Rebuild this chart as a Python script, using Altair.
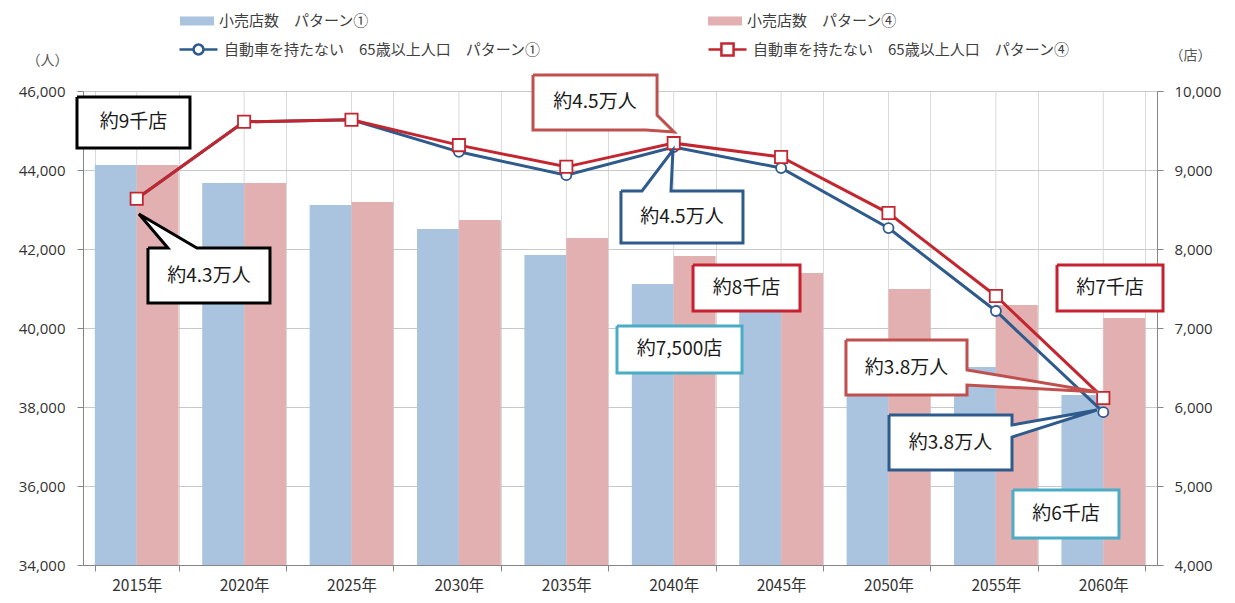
import altair as alt
import pandas as pd

# ---------------- data ----------------
years = ["2015年", "2020年", "2025年", "2030年", "2035年",
         "2040年", "2045年", "2050年", "2055年", "2060年"]
stores_p1 = [9063, 8835, 8557, 8253, 7924, 7557, 7230, 6860, 6506, 6152]
stores_p4 = [9063, 8835, 8595, 8367, 8139, 7911, 7696, 7494, 7291, 7127]
people_p1 = [43270, 45220, 45270, 44460, 43870, 44580, 44050, 42530, 40430, 37870]
people_p4 = [43270, 45220, 45270, 44630, 44080, 44680, 44330, 42910, 40810, 38230]

bar1_label = "小売店数　パターン①"
bar4_label = "小売店数　パターン④"
line1_label = "自動車を持たない　65歳以上人口　パターン①"
line4_label = "自動車を持たない　65歳以上人口　パターン④"

# callouts: outline vertices in data units (x = category units 0..10, y = people)
callouts = [
    {"text": "約9千店", "kind": "black", "tx": 0.47, "ty": 45203,
     "xs": [-0.056, 0.996, 0.996, -0.056],
     "ys": [45848, 45848, 44557, 44557]},
    {"text": "約4.3万人", "kind": "black", "tx": 1.173, "ty": 41329,
     "xs": [0.605, 0.791, 0.521, 1.061, 1.741, 1.741, 0.605],
     "ys": [42025, 42025, 42886, 42025, 42025, 40633, 40633]},
    {"text": "約4.5万人", "kind": "salmon", "tx": 4.767, "ty": 45709,
     "xs": [4.190, 5.345, 5.345, 5.503, 5.242, 4.190],
     "ys": [46405, 46405, 45392, 44962, 45013, 45013]},
    {"text": "約4.5万人", "kind": "blue", "tx": 5.577, "ty": 42810,
     "xs": [5.009, 5.205, 5.493, 5.475, 6.145, 6.145, 5.009],
     "ys": [43468, 43468, 44506, 43468, 43468, 42152, 42152]},
    {"text": "約8千店", "kind": "red", "tx": 6.178, "ty": 41013,
     "xs": [5.680, 6.676, 6.676, 5.680],
     "ys": [41595, 41595, 40430, 40430]},
    {"text": "約7,500店", "kind": "cyan", "tx": 5.554, "ty": 39456,
     "xs": [4.972, 6.136, 6.136, 4.972],
     "ys": [40051, 40051, 38861, 38861]},
    {"text": "約7千店", "kind": "red", "tx": 9.562, "ty": 41013,
     "xs": [9.069, 10.056, 10.056, 9.069],
     "ys": [41595, 41595, 40430, 40430]},
    {"text": "約3.8万人", "kind": "salmon", "tx": 7.668, "ty": 39000,
     "xs": [7.104, 8.231, 8.231, 9.451, 8.231, 8.231, 7.104],
     "ys": [39696, 39696, 38937, 38380, 38557, 38304, 38304]},
    {"text": "約3.8万人", "kind": "blue", "tx": 8.077, "ty": 37101,
     "xs": [7.505, 8.650, 8.650, 9.441, 8.650, 8.650, 7.505],
     "ys": [37798, 37798, 37544, 37924, 37241, 36405, 36405]},
    {"text": "約6千店", "kind": "cyan", "tx": 9.153, "ty": 35291,
     "xs": [8.659, 9.646, 9.646, 8.659],
     "ys": [35899, 35899, 34684, 34684]},
]

# ---------------- styles ----------------
BLUE_BAR = "#AAC4DF"
PINK_BAR = "#E3B0B2"
BLUE_LINE = "#2E5B8C"
RED_LINE = "#C3262F"
kinds = ["black", "salmon", "blue", "red", "cyan"]
kind_colors = ["#000000", "#C0504D", "#2E5B8C", "#C62031", "#4BACC6"]
JP = "'Noto Sans CJK JP', sans-serif"
NUM = "'Open Sans', 'Noto Sans CJK JP', sans-serif"
W, H = 1074, 474

# ---------------- tables ----------------
bars1 = pd.DataFrame({"year": years, "pat": "①", "stores": stores_p1, "series": bar1_label})
bars4 = pd.DataFrame({"year": years, "pat": "④", "stores": stores_p4, "series": bar4_label})
centers = pd.DataFrame({"year": years})
line1 = pd.DataFrame({"pos": [i + 0.5 for i in range(len(years))], "people": people_p1, "series": line1_label})
line4 = pd.DataFrame({"pos": [i + 0.5 for i in range(len(years))], "people": people_p4, "series": line4_label})

rows = []
for cid, c in enumerate(callouts):
    pts = list(zip(c["xs"], c["ys"])) + [(c["xs"][0], c["ys"][0])]
    for k, (x, y) in enumerate(pts):
        rows.append({"cid": cid, "ord": k, "pos": x, "people": y, "kind": c["kind"]})
outline = pd.DataFrame(rows)
labels = pd.DataFrame({"pos": [c["tx"] for c in callouts],
                       "people": [c["ty"] for c in callouts],
                       "text": [c["text"] for c in callouts]})

# ---------------- scales / axes ----------------
xband = alt.Scale(domain=years, paddingInner=0.22, paddingOuter=0.11)
xoff = alt.Scale(domain=["①", "④"], paddingInner=0, paddingOuter=0)
xq = alt.Scale(domain=[0, 10], nice=False, zero=False)
store_scale = alt.Scale(domain=[4000, 10000], nice=False, zero=False)
people_scale = alt.Scale(domain=[34000, 46000], nice=False, zero=False)

x_axis = alt.Axis(title=None, tickBand="extent", grid=True, gridColor="#D9D9D9",
                  domainColor="#868686", tickColor="#868686", tickSize=6,
                  labelAngle=0, labelFont=JP, labelFontSize=15.5, labelColor="#333333",
                  labelPadding=7)
store_axis = alt.Axis(orient="right", values=list(range(4000, 10001, 1000)), format=",d",
                      grid=False, domainColor="#868686", tickColor="#868686", tickSize=6,
                      labelFont=NUM, labelFontSize=15, labelColor="#333333", labelPadding=11,
                      title="（店）", titleAngle=0, titleX=33, titleY=-36,
                      titleAlign="center", titleBaseline="middle", titleFont=JP,
                      titleFontSize=14, titleFontWeight="normal", titleColor="#555555")
people_axis = alt.Axis(orient="left", values=list(range(34000, 46001, 2000)), format=",d",
                       grid=True, gridColor="#C8C8C8", domainColor="#868686",
                       tickColor="#868686", tickSize=6,
                       labelFont=NUM, labelFontSize=15, labelColor="#333333", labelPadding=12,
                       title="（人）", titleAngle=0, titleX=-36, titleY=-31,
                       titleAlign="center", titleBaseline="middle", titleFont=JP,
                       titleFontSize=14, titleFontWeight="normal", titleColor="#555555")

px = alt.X("pos:Q", scale=xq, axis=None)
py = alt.Y("people:Q", scale=people_scale, axis=people_axis)

RECT_SYM = "M-1,-0.26H1V0.26H-1Z"
CIRC_SYM = "M-1,0H-0.26M0.26,0H1M-0.26,0A0.26,0.26,0,1,0,0.26,0A0.26,0.26,0,1,0,-0.26,0"
SQ_SYM = "M-1,0H-0.32M0.32,0H1M-0.32,-0.32H0.32V0.32H-0.32Z"


def leg(x, y, sym, size, sw):
    return alt.Legend(title=None, orient="none", legendX=x, legendY=y, symbolType=sym,
                      symbolSize=size, symbolStrokeWidth=sw, labelFont=JP,
                      labelFontSize=15, labelColor="#404040", labelOffset=5,
                      padding=0, labelLimit=600)


# ---------------- bars ----------------
rules = alt.Chart(centers).mark_rule(color="#D9D9D9", strokeWidth=1).encode(
    x=alt.X("year:N", scale=xband, axis=x_axis, sort=years))

bar_blue = alt.Chart(bars1).mark_bar().encode(
    x=alt.X("year:N", scale=xband, axis=x_axis, sort=years),
    xOffset=alt.XOffset("pat:N", scale=xoff),
    y=alt.Y("stores:Q", scale=store_scale, axis=store_axis),
    y2=alt.Y2(datum=4000),
    color=alt.Color("series:N", scale=alt.Scale(domain=[bar1_label], range=[BLUE_BAR]),
                    legend=leg(97, -87, RECT_SYM, 1156, 0)))

bar_pink = alt.Chart(bars4).mark_bar().encode(
    x=alt.X("year:N", scale=xband, axis=x_axis, sort=years),
    xOffset=alt.XOffset("pat:N", scale=xoff),
    y=alt.Y("stores:Q", scale=store_scale, axis=store_axis),
    y2=alt.Y2(datum=4000),
    color=alt.Color("series:N", scale=alt.Scale(domain=[bar4_label], range=[PINK_BAR]),
                    legend=leg(625, -87, RECT_SYM, 1156, 0)))

bars_group = alt.layer(rules, bar_blue, bar_pink).resolve_scale(color="independent").resolve_legend(color="independent")

# ---------------- lines ----------------
blue_line = alt.Chart(line1).mark_line(strokeWidth=3).encode(
    x=px, y=py,
    color=alt.Color("series:N", scale=alt.Scale(domain=[line1_label], range=[BLUE_LINE]),
                    legend=leg(95, -62, CIRC_SYM, 1444, 2.5)))
blue_pts = alt.Chart(line1).mark_point(shape="circle", filled=True, fill="white",
                                       stroke=BLUE_LINE, strokeWidth=1.8, size=100,
                                       opacity=1).encode(x=px, y=py)
red_line = alt.Chart(line4).mark_line(strokeWidth=3).encode(
    x=px, y=py,
    color=alt.Color("series:N", scale=alt.Scale(domain=[line4_label], range=[RED_LINE]),
                    legend=leg(624, -62, SQ_SYM, 1444, 2.5)))
red_pts = alt.Chart(line4).mark_point(shape="square", filled=True, fill="white",
                                      stroke=RED_LINE, strokeWidth=1.8, size=150,
                                      opacity=1).encode(x=px, y=py)

callout_shapes = alt.Chart(outline).mark_line(fill="white", strokeWidth=3,
                                              strokeJoin="miter", interpolate="linear").encode(
    x=px, y=py, detail="cid:N", order="ord:Q",
    stroke=alt.Stroke("kind:N", scale=alt.Scale(domain=kinds, range=kind_colors), legend=None))
callout_text = alt.Chart(labels).mark_text(font=JP, fontSize=19, color="#1A1A1A",
                                           align="center", baseline="middle").encode(
    x=px, y=py, text="text:N")

people_group = alt.layer(blue_line, blue_pts, red_line, red_pts, callout_shapes, callout_text
                         ).resolve_scale(color="independent").resolve_legend(color="independent")

chart = alt.layer(bars_group, people_group).resolve_scale(
    x="independent", y="independent", color="independent"
).resolve_legend(color="independent").properties(
    width=W, height=H,
    autosize=alt.AutoSizeParams(type="none"),
    padding={"left": 83, "top": 91, "right": 78, "bottom": 38},
).configure_view(stroke=None).configure(background="white")

chart.save("out.html", embed_options={"renderer": "svg", "actions": False})
